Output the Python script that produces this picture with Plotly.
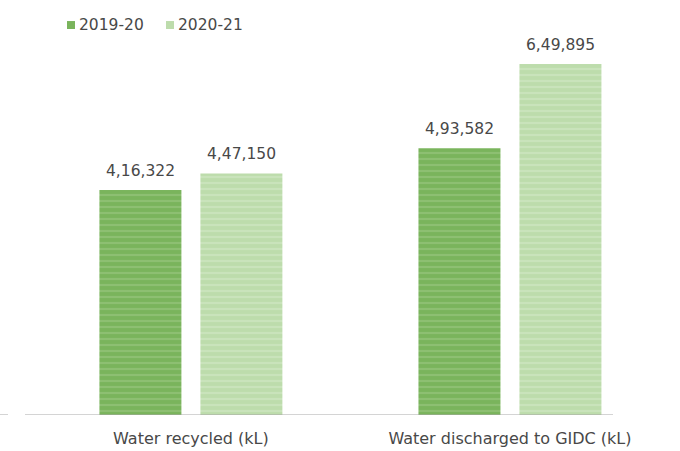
import plotly.graph_objects as go

categories = ["Water recycled (kL)", "Water discharged to GIDC (kL)"]
years = ["2019-20", "2020-21"]
values_2019_20 = [416322, 493582]
values_2020_21 = [447150, 649895]
value_labels_2019_20 = ["4,16,322", "4,93,582"]
value_labels_2020_21 = ["4,47,150", "6,49,895"]

base_colors = ["#7ab45c", "#bddcac"]
stripe_colors = ["#9fca88", "#d5eac9"]

FONT = "DejaVu Sans, Liberation Sans, Arial, sans-serif"
TEXT_GREY = "#484848"

fig = go.Figure()
for name, vals, bc, sc in zip(
    years, [values_2019_20, values_2020_21], base_colors, stripe_colors
):
    fig.add_trace(go.Bar(
        x=categories, y=vals, name=name,
        marker=dict(
            color=bc, line=dict(width=0),
            pattern=dict(shape="-", fgcolor=sc, size=6, solidity=0.35),
        ),
        showlegend=False,
    ))

# value labels above each bar (bars sit ~50px either side of the category centre)
for vals, labels, dx in zip(
    [values_2019_20, values_2020_21],
    [value_labels_2019_20, value_labels_2020_21],
    [-50.5, 50.5],
):
    for cat, v, lab in zip(categories, vals, labels):
        fig.add_annotation(
            x=cat, y=v, text=lab, showarrow=False,
            xanchor="center", yanchor="bottom", xshift=dx, yshift=8,
            font=dict(family=FONT, size=15.5, color=TEXT_GREY),
        )

# legend: small coloured squares followed by the year labels
PW, PH = 588, 380  # plot area in pixels
def px_x(px):
    return (px - 25) / PW
def px_y(py):
    return (415 - py) / PH

for name, bc, sq_x in zip(years, base_colors, [67, 166]):
    fig.add_shape(type="rect", xref="paper", yref="paper",
                  x0=px_x(sq_x), x1=px_x(sq_x + 8), y0=px_y(28), y1=px_y(20),
                  fillcolor=bc, line=dict(width=0))
    fig.add_annotation(
        xref="paper", yref="paper", x=px_x(sq_x + 10), y=px_y(24),
        xanchor="left", yanchor="middle", showarrow=False, text=name,
        font=dict(family=FONT, size=15.5, color=TEXT_GREY),
    )

# baseline and the short stub at the far left
fig.add_shape(type="line", xref="paper", yref="y", x0=0, x1=1, y0=0, y1=0,
              line=dict(color="#a8a8a8", width=1))
fig.add_shape(type="line", xref="paper", yref="y", x0=px_x(0), x1=px_x(8),
              y0=0, y1=0, line=dict(color="#a8a8a8", width=1))

fig.update_layout(
    width=680, height=451,
    margin=dict(l=25, r=67, t=36, b=36, autoexpand=False),
    paper_bgcolor="white", plot_bgcolor="white",
    barmode="group", bargap=0.367, bargroupgap=0.188,
    font=dict(family=FONT, color=TEXT_GREY),
    xaxis=dict(range=[-0.52, 1.323], showline=False, ticks="",
               ticklabelstandoff=12, automargin=False,
               tickfont=dict(family=FONT, size=16, color=TEXT_GREY),
               showgrid=False),
    yaxis=dict(range=[0, 701500], visible=False, showgrid=False,
               automargin=False),
)

fig.write_html("out.html")
